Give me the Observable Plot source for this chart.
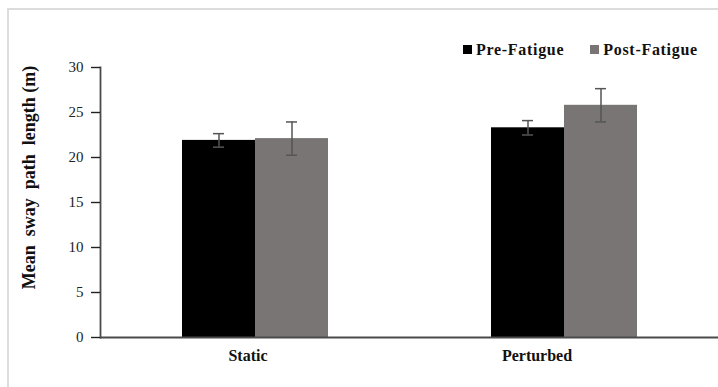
<!DOCTYPE html>
<html><head><meta charset="utf-8">
<script src="https://cdn.jsdelivr.net/npm/d3@7"></script>
<script src="https://cdn.jsdelivr.net/npm/@observablehq/plot@0.6"></script>
<style>
html,body{margin:0;padding:0;background:#fff;}
#wrap{position:relative;width:718px;height:387px;overflow:hidden;background:#fff;}
#border{position:absolute;left:7px;top:8px;width:730px;height:400px;border-left:2px solid #dcdcdc;border-top:2px solid #dcdcdc;}
#chart{position:absolute;left:0;top:0;}
#legend{position:absolute;left:463px;top:33px;width:260px;white-space:nowrap;}
#legend .lg-swatches{font-family:"Liberation Serif",serif;font-weight:bold;font-size:16px;color:#111;letter-spacing:0.7px;margin:0;display:flex;flex-wrap:nowrap;}
#legend .lg-swatch{margin-right:26px;}
#legend .lg-swatch > svg{margin-right:4px;}
</style>
</head><body>
<div id="wrap"><div id="border"></div><div id="chart"></div><div id="legend"></div></div>
<script>
const categories = ["Static", "Perturbed"];
const series = ["Pre-Fatigue", "Post-Fatigue"];
const preMeans = [21.9, 23.3];
const postMeans = [22.1, 25.8];
const preErr = [0.75, 0.8];
const postErr = [1.85, 1.85];
const yTicks = [0, 5, 10, 15, 20, 25, 30];
const yLabel = "Mean  sway  path  length (m)";
const colors = ["#000000", "#797575"];

const data = [];
categories.forEach((c, i) => {
  data.push({cat: c, series: series[0], mean: preMeans[i], err: preErr[i]});
  data.push({cat: c, series: series[1], mean: postMeans[i], err: postErr[i]});
});

const axisColor = "#4a4a4a";
const errColor = "#555";
const chart = Plot.plot({
  width: 718, height: 387,
  marginLeft: 99, marginRight: 0, marginTop: 67, marginBottom: 50,
  style: {fontFamily: "'Liberation Serif', serif", background: "transparent", overflow: "visible"},
  fx: {domain: categories, padding: 0, label: null, axis: null},
  x: {domain: series, paddingInner: 0, paddingOuter: 1.1, axis: null},
  y: {domain: [0, 30], axis: null},
  color: {domain: series, range: colors},
  marks: [
    Plot.barY(data, {fx: "cat", x: "series", y: "mean", fill: "series"}),
    Plot.ruleX(data, {fx: "cat", x: "series", y1: d => d.mean - d.err, y2: d => d.mean + d.err, stroke: errColor, strokeWidth: 1.5}),
    Plot.tickY(data, {fx: "cat", x: "series", y: d => d.mean + d.err, stroke: errColor, strokeWidth: 1.5, insetLeft: 31, insetRight: 31}),
    Plot.tickY(data, {fx: "cat", x: "series", y: d => d.mean - d.err, stroke: errColor, strokeWidth: 1.5, insetLeft: 31, insetRight: 31}),
    Plot.ruleY([0], {stroke: axisColor, strokeWidth: 1.8}),
    Plot.frame({anchor: "left", facetAnchor: "left", stroke: axisColor, strokeWidth: 1.8}),
    Plot.axisY({ticks: yTicks, tickSize: 9, tickPadding: 8, fontSize: 15, color: "#222", label: null, strokeWidth: 1.4}),
    Plot.text([yLabel], {text: d => d, frameAnchor: "left", textAnchor: "middle", rotate: -90, dx: -71, dy: -25, facetAnchor: "left", fontSize: 18, fontWeight: "bold", fill: "#111"}),
    Plot.axisFx({ticks: ["Static"], anchor: "bottom", tickSize: 0, tickPadding: 12, dx: -7, fontSize: 16, fontWeight: "bold", color: "#111", label: null}),
    Plot.axisFx({ticks: ["Perturbed"], anchor: "bottom", tickSize: 0, tickPadding: 12, dx: -27, fontSize: 16, fontWeight: "bold", color: "#111", label: null})
  ]
});
document.getElementById("chart").appendChild(chart);

const legend = Plot.legend({color: {domain: series, range: colors}, swatchSize: 9, className: "lg"});
document.getElementById("legend").appendChild(legend);
</script>
</body></html>
